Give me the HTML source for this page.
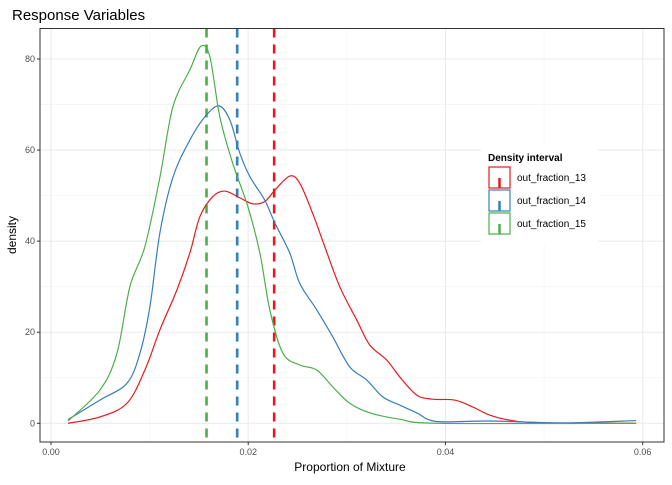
<!DOCTYPE html>
<html><head><meta charset="utf-8"><style>
html,body{margin:0;padding:0;background:#fff;}
svg text{font-family:"Liberation Sans",Arial,sans-serif;}
</style></head><body>
<svg id="chart" width="672" height="480" viewBox="0 0 672 480" xmlns="http://www.w3.org/2000/svg">
<text x="12" y="20" font-size="15" fill="#000">Response Variables</text>
<g id="grid"></g>
<g id="vlines"></g>
<g id="curves"></g>
<rect x="40" y="28.5" width="624" height="413.5" fill="none" stroke="#333" stroke-width="1"/>
<g id="axes"></g>
<text x="350" y="471" font-size="12" text-anchor="middle" fill="#000">Proportion of Mixture</text>
<text x="0" y="0" font-size="12" text-anchor="middle" fill="#000" transform="translate(16,235) rotate(-90)">density</text>
<g id="legend">
<rect x="481" y="144" width="117" height="100" fill="#fff"/>
<text x="488" y="161" font-size="10" font-weight="bold" fill="#000">Density interval</text>
</g>
</svg>
<script>
const seriesNames = ['out_fraction_13','out_fraction_14','out_fraction_15'];
const seriesColors = ['#e41a1c','#377eb8','#4daf4a'];
const xTicks = [0, 0.02, 0.04, 0.06];
const xTickLabels = ['0.00','0.02','0.04','0.06'];
const yTicks = [0, 20, 40, 60, 80];
const yTickLabels = ['0','20','40','60','80'];
const vlineValues = [0.02263, 0.01888, 0.01577];
const redX = [0.00172,0.00496,0.00770,0.00952,0.01104,0.01277,0.01408,0.01510,0.01641,0.01763,0.01915,0.02047,0.02168,0.02270,0.02421,0.02523,0.02655,0.02776,0.02928,0.03100,0.03232,0.03404,0.03536,0.03708,0.03870,0.04093,0.04276,0.04448,0.04650,0.04954,0.05934];
const redY = [0,1.4,4.4,11.7,20.5,29.3,37.4,45.4,49.8,51,49.5,48.2,48.7,51.2,54.3,52.7,46,38.8,30,22.7,17.2,13.9,10.2,6.2,5.3,5.1,3.6,1.8,0.7,0.1,0];
const blueX = [0.00172,0.00496,0.00770,0.00902,0.01003,0.01104,0.01236,0.01408,0.01560,0.01702,0.01814,0.01915,0.02016,0.02168,0.02270,0.02421,0.02523,0.02695,0.02857,0.03029,0.03202,0.03364,0.03536,0.03708,0.03911,0.04448,0.05200,0.05934];
const blueY = [0.8,5.1,8.8,15.4,25.6,41.8,54,62.2,67.3,69.7,66.6,59.3,54.2,49,44,37.4,30.7,24.9,19,12.4,9.5,5.8,4,2.3,0.4,0.5,0.1,0.6];
const greenX = [0.00172,0.00496,0.00669,0.00800,0.00952,0.01104,0.01236,0.01408,0.01520,0.01611,0.01712,0.01844,0.01996,0.02118,0.02219,0.02351,0.02523,0.02695,0.02857,0.03029,0.03232,0.03536,0.03941,0.05934];
const greenY = [0.5,7.3,15.4,30,38.8,54,69.5,77.6,82.8,80.5,67.3,57,47.6,37.4,24.9,15.4,12.8,11.7,8,4.4,2.3,0.9,0,0];
const seriesX = [redX, blueX, greenX];
const seriesY = [redY, blueY, greenY];

const NS='http://www.w3.org/2000/svg';
const L=40,R=664,T=28.5,B=442;
const xs=v=>51+v*(642.7-51)/0.06;
const ys=v=>423.3-v*(423.3-59)/80;
function mk(tag,attrs,parent){const e=document.createElementNS(NS,tag);for(const k in attrs)e.setAttribute(k,attrs[k]);parent.appendChild(e);return e;}
const grid=document.getElementById('grid');
mk('rect',{x:L,y:T,width:R-L,height:B-T,fill:'#fff'},grid);
// minor grid
for(let i=0;i<xTicks.length-1;i++){const v=(xTicks[i]+xTicks[i+1])/2;const l=mk('line',{x1:xs(v),x2:xs(v),y1:T,y2:B,stroke:'#f2f2f2','stroke-width':0.6},grid);}
for(let i=0;i<yTicks.length-1;i++){const v=(yTicks[i]+yTicks[i+1])/2;const l=mk('line',{x1:L,x2:R,y1:ys(v),y2:ys(v),stroke:'#f2f2f2','stroke-width':0.6},grid);}
const axes=document.getElementById('axes');
xTicks.forEach((v,i)=>{
 const g=mk('line',{x1:xs(v),x2:xs(v),y1:T,y2:B,stroke:'#ebebeb','stroke-width':1.1},grid);
 
 const t=mk('line',{x1:xs(v),x2:xs(v),y1:B,y2:B+3,stroke:'#333'},axes);
 
 const tx=mk('text',{x:xs(v),y:B+13,'font-size':9,'text-anchor':'middle',fill:'#4d4d4d'},axes);tx.textContent=xTickLabels[i];
 
});
yTicks.forEach((v,i)=>{
 const g=mk('line',{x1:L,x2:R,y1:ys(v),y2:ys(v),stroke:'#ebebeb','stroke-width':1.1},grid);
 
 const t=mk('line',{x1:L-3,x2:L,y1:ys(v),y2:ys(v),stroke:'#333'},axes);
 
 const tx=mk('text',{x:L-5,y:ys(v)+3,'font-size':9,'text-anchor':'end',fill:'#4d4d4d'},axes);tx.textContent=yTickLabels[i];
 
});
function smooth(px,py){let d='M'+px[0]+','+py[0];for(let i=0;i<px.length-1;i++){const x0=px[Math.max(i-1,0)],y0=py[Math.max(i-1,0)],x1=px[i],y1=py[i],x2=px[i+1],y2=py[i+1],x3=px[Math.min(i+2,px.length-1)],y3=py[Math.min(i+2,px.length-1)];
 d+=' C'+(x1+(x2-x0)/6)+','+(y1+(y2-y0)/6)+' '+(x2-(x3-x1)/6)+','+(y2-(y3-y1)/6)+' '+x2+','+y2;}return d;}
const curves=document.getElementById('curves');
seriesNames.forEach((n,s)=>{
 const p=mk('path',{d:smooth(seriesX[s].map(xs),seriesY[s].map(ys)),fill:'none',stroke:seriesColors[s],'stroke-width':1.2},curves);
 
});
const vl=document.getElementById('vlines');
vlineValues.forEach((v,s)=>{
 const l=mk('line',{x1:xs(v),x2:xs(v),y1:T,y2:B,stroke:seriesColors[s],'stroke-width':2.6,'stroke-dasharray':'9,7'},vl);
 
});
const lg=document.getElementById('legend');
seriesNames.forEach((n,s)=>{
 const y0=167+s*23;
 const g=mk('g',{},lg);
 
 mk('rect',{x:489,y:y0,width:21,height:21,fill:'#fff',stroke:seriesColors[s],'stroke-width':1.2},g);
 mk('line',{x1:499.5,x2:499.5,y1:y0+11,y2:y0+21,stroke:seriesColors[s],'stroke-width':2.5},g);
 const t=mk('text',{x:517,y:y0+14,'font-size':10,fill:'#000'},g);t.textContent=n;
});
</script>
</body></html>
